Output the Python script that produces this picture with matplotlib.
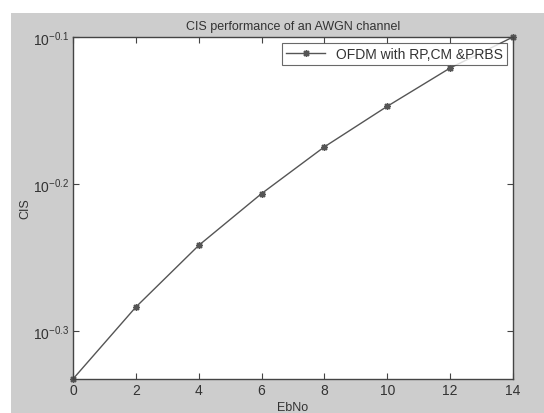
import matplotlib
matplotlib.use('Agg')
import matplotlib.pyplot as plt
import matplotlib.patches as patches
import numpy as np

# values
ebno = [0, 2, 4, 6, 8, 10, 12, 14]
cis = [0.4647, 0.5202, 0.5730, 0.6215, 0.6688, 0.7127, 0.7568, 0.7945]
xticks = [0, 2, 4, 6, 8, 10, 12, 14]
yticks = [10 ** -0.3, 10 ** -0.2, 10 ** -0.1]
ytick_labels = [r'$10^{-0.3}$', r'$10^{-0.2}$', r'$10^{-0.1}$']

plt.rcParams['font.family'] = ['Liberation Sans', 'DejaVu Sans']
plt.rcParams['mathtext.fontset'] = 'custom'
plt.rcParams['mathtext.rm'] = 'Liberation Sans'
plt.rcParams['mathtext.default'] = 'regular'

fig = plt.figure(figsize=(5.44, 4.14), dpi=100, facecolor='white')
# grey MATLAB figure area
fig.patches.append(patches.Rectangle((11 / 544, 0), 1 - 11 / 544, 400 / 414,
                                     transform=fig.transFigure, facecolor='#cdcdcd',
                                     edgecolor='none', zorder=-10))

ax = fig.add_axes([73 / 544, 34 / 414, 440 / 544, 342 / 414])
ax.set_zorder(1)
ax.set_facecolor('white')
ax.plot(ebno, cis, color='#555555', linewidth=1.0, marker=(8, 2, 0),
        markersize=5, markeredgewidth=1.0, label='OFDM with RP,CM &PRBS', clip_on=False)

ax.set_yscale('log')
ax.set_xlim(0, 14)
ax.set_ylim(cis[0], cis[-1])
ax.set_xticks(xticks)
ax.set_xticklabels([str(t) for t in xticks])
ax.yaxis.set_major_locator(matplotlib.ticker.FixedLocator(yticks))
ax.yaxis.set_minor_locator(matplotlib.ticker.NullLocator())
ax.set_yticklabels(ytick_labels)

ax.tick_params(direction='in', length=4, width=0.8, color='#444444',
               top=True, right=True, labelsize=10, labelcolor='#333333', pad=3)
for s in ax.spines.values():
    s.set_color('#444444')
    s.set_linewidth(1.0)

ax.set_title('CIS performance of an AWGN channel', fontsize=9, color='#333333', pad=6)
ax.set_xlabel('EbNo', fontsize=9, color='#333333')
ax.xaxis.set_label_coords(0.5, -0.065)
ax.set_ylabel('CIS', fontsize=9, color='#333333')
ax.yaxis.set_label_coords(-0.095, 0.5)

leg = ax.legend(loc='upper right', fontsize=10, frameon=True, fancybox=False,
                borderpad=0.3, handlelength=2.8, borderaxespad=0.4)
leg.get_frame().set_edgecolor('#444444')
leg.get_frame().set_linewidth(0.8)
for t in leg.get_texts():
    t.set_color('#333333')

fig.savefig('out.png', dpi=100)
